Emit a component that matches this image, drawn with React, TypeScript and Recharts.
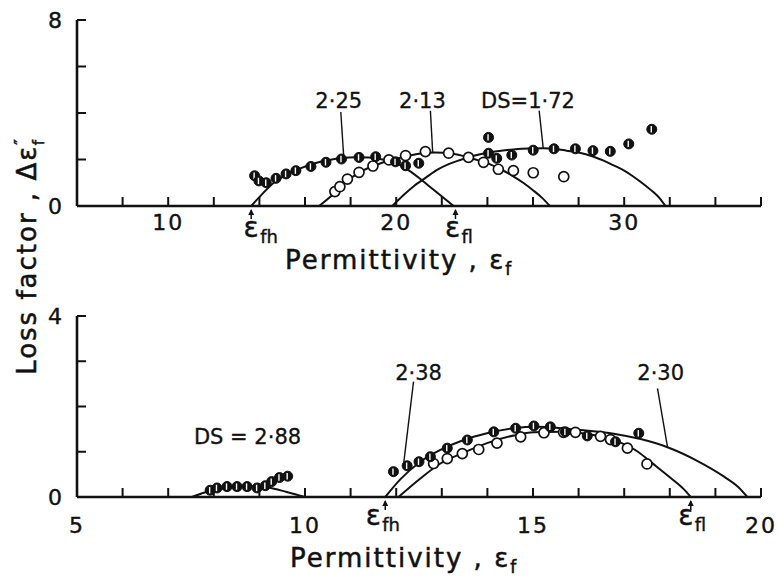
import React from "react";
import {
  ComposedChart,
  Line,
  ReferenceDot,
  ReferenceLine,
  Scatter,
  XAxis,
  YAxis,
} from "recharts";

const FONT = "'DejaVu Sans', 'Liberation Sans', sans-serif";
const INK = "#111";
const TICK = 9;

type Pt = { x: number; y: number };

// ---------- upper panel ----------
const topXTicks = [6, 8, 10, 12, 14, 16, 18, 20, 22, 24, 26, 28, 30, 32, 34, 36];
const topXLabels = [10, 20, 30];
const topYTicks = [0, 2, 4, 6, 8];
const topYLabels = [0, 8];

const topCurve225: Pt[] = [
  { x: 13.64, y: 0 }, { x: 14.08, y: 0.47 }, { x: 14.66, y: 1.02 }, { x: 15.2, y: 1.35 },
  { x: 15.8, y: 1.62 }, { x: 16.4, y: 1.83 }, { x: 17.0, y: 1.97 }, { x: 17.6, y: 2.06 },
  { x: 18.2, y: 2.1 }, { x: 18.8, y: 2.09 }, { x: 19.4, y: 2.0 }, { x: 20.0, y: 1.84 },
  { x: 20.6, y: 1.5 }, { x: 21.1, y: 1.13 }, { x: 21.6, y: 0.73 }, { x: 22.1, y: 0.33 },
  { x: 22.52, y: 0 },
];
const topCurve213: Pt[] = [
  { x: 16.62, y: 0 }, { x: 17.2, y: 0.47 }, { x: 17.72, y: 0.98 }, { x: 18.45, y: 1.48 },
  { x: 19.32, y: 1.84 }, { x: 20.2, y: 2.08 }, { x: 21.0, y: 2.25 }, { x: 21.7, y: 2.3 },
  { x: 22.4, y: 2.26 }, { x: 23.15, y: 2.1 }, { x: 23.7, y: 1.93 }, { x: 24.1, y: 1.8 },
  { x: 24.6, y: 1.57 }, { x: 25.1, y: 1.3 }, { x: 25.6, y: 0.98 }, { x: 26.0, y: 0.68 },
  { x: 26.4, y: 0.35 }, { x: 26.74, y: 0 },
];
const topCurve172: Pt[] = [
  { x: 19.83, y: 0 }, { x: 20.3, y: 0.45 }, { x: 20.77, y: 0.85 }, { x: 21.3, y: 1.22 },
  { x: 21.79, y: 1.55 }, { x: 22.3, y: 1.8 }, { x: 22.81, y: 1.98 }, { x: 23.4, y: 2.16 },
  { x: 23.98, y: 2.29 }, { x: 24.6, y: 2.38 }, { x: 25.14, y: 2.43 }, { x: 25.8, y: 2.47 },
  { x: 26.45, y: 2.48 }, { x: 27.0, y: 2.45 }, { x: 27.47, y: 2.38 }, { x: 28.0, y: 2.3 },
  { x: 28.63, y: 2.13 }, { x: 29.1, y: 1.95 }, { x: 29.51, y: 1.76 }, { x: 30.0, y: 1.52 },
  { x: 30.38, y: 1.28 }, { x: 30.8, y: 0.98 }, { x: 31.25, y: 0.62 }, { x: 31.55, y: 0.34 },
  { x: 31.81, y: 0 },
];

const topShaded: Pt[] = [
  { x: 13.79, y: 1.3 }, { x: 13.98, y: 1.08 }, { x: 14.3, y: 1.0 }, { x: 14.73, y: 1.19 },
  { x: 15.17, y: 1.38 }, { x: 15.6, y: 1.52 }, { x: 16.26, y: 1.7 }, { x: 16.92, y: 1.88 },
  { x: 17.6, y: 2.02 }, { x: 18.37, y: 2.09 }, { x: 19.1, y: 2.12 }, { x: 19.97, y: 1.9 },
  { x: 20.41, y: 1.73 }, { x: 20.99, y: 1.84 },
  { x: 24.05, y: 2.95 }, { x: 24.05, y: 2.27 }, { x: 24.41, y: 2.05 }, { x: 25.07, y: 2.19 },
  { x: 26.01, y: 2.4 }, { x: 26.92, y: 2.46 }, { x: 27.86, y: 2.46 }, { x: 28.63, y: 2.38 },
  { x: 29.39, y: 2.35 }, { x: 30.2, y: 2.67 }, { x: 31.21, y: 3.3 },
];
const topOpen: Pt[] = [
  { x: 17.31, y: 0.62 }, { x: 17.53, y: 0.83 }, { x: 17.86, y: 1.16 }, { x: 18.37, y: 1.45 },
  { x: 18.98, y: 1.72 }, { x: 19.68, y: 1.98 }, { x: 20.41, y: 2.17 }, { x: 21.28, y: 2.34 },
  { x: 22.3, y: 2.27 }, { x: 23.17, y: 2.09 }, { x: 23.83, y: 1.88 }, { x: 24.48, y: 1.58 },
  { x: 25.14, y: 1.52 }, { x: 26.01, y: 1.43 }, { x: 27.35, y: 1.26 },
];

const topNotes = [
  { x: 17.48, y: 4.56, text: "2·25" },
  { x: 21.15, y: 4.56, text: "2·13" },
  { x: 25.78, y: 4.56, text: "DS=1·72" },
];
const topLeaders: [Pt, Pt][] = [
  [{ x: 17.57, y: 4.04 }, { x: 17.7, y: 2.1 }],
  [{ x: 21.5, y: 4.1 }, { x: 21.6, y: 2.3 }],
  [{ x: 26.27, y: 4.1 }, { x: 26.45, y: 2.48 }],
];
const topMarks = [
  { x: 13.64, sub: "fh", dx: 0 },
  { x: 22.6, sub: "fl", dx: -3 },
];

// ---------- lower panel ----------
const botXTicks = [5, 6, 7, 8, 9, 10, 11, 12, 13, 14, 15, 16, 17, 18, 19, 20];
const botXLabels = [5, 10, 15, 20];
const botYTicks = [0, 1, 2, 3, 4];
const botYLabels = [0, 4];

const botCurve288: Pt[] = [
  { x: 7.52, y: 0 }, { x: 7.8, y: 0.1 }, { x: 8.1, y: 0.17 }, { x: 8.5, y: 0.22 },
  { x: 8.9, y: 0.24 }, { x: 9.2, y: 0.21 }, { x: 9.6, y: 0.11 }, { x: 10.0, y: 0 },
];
const botCurve230: Pt[] = [
  { x: 11.76, y: 0 }, { x: 12.1, y: 0.4 }, { x: 12.53, y: 0.78 }, { x: 12.97, y: 1.04 },
  { x: 13.48, y: 1.26 }, { x: 13.99, y: 1.41 }, { x: 14.58, y: 1.52 }, { x: 15.09, y: 1.55 },
  { x: 15.6, y: 1.52 }, { x: 16.04, y: 1.48 }, { x: 16.77, y: 1.4 }, { x: 17.36, y: 1.28 },
  { x: 17.95, y: 1.1 }, { x: 18.6, y: 0.8 }, { x: 19.19, y: 0.45 }, { x: 19.5, y: 0.22 },
  { x: 19.7, y: 0 },
];
const botCurve238: Pt[] = [
  { x: 12.05, y: 0 }, { x: 12.53, y: 0.41 }, { x: 12.97, y: 0.74 }, { x: 13.48, y: 0.98 },
  { x: 13.99, y: 1.19 }, { x: 14.58, y: 1.36 }, { x: 15.02, y: 1.43 }, { x: 15.6, y: 1.44 },
  { x: 16.33, y: 1.37 }, { x: 16.92, y: 1.2 }, { x: 17.3, y: 1.0 }, { x: 17.6, y: 0.76 },
  { x: 18.02, y: 0.42 }, { x: 18.3, y: 0.18 }, { x: 18.46, y: 0 },
];

const botShaded: Pt[] = [
  { x: 7.92, y: 0.15 }, { x: 8.07, y: 0.2 }, { x: 8.29, y: 0.23 }, { x: 8.51, y: 0.23 },
  { x: 8.73, y: 0.23 }, { x: 8.95, y: 0.2 }, { x: 9.13, y: 0.25 }, { x: 9.27, y: 0.34 },
  { x: 9.44, y: 0.43 }, { x: 9.62, y: 0.46 },
  { x: 11.94, y: 0.56 }, { x: 12.24, y: 0.69 }, { x: 12.5, y: 0.78 }, { x: 12.75, y: 0.89 },
  { x: 13.12, y: 1.08 }, { x: 13.56, y: 1.26 }, { x: 14.14, y: 1.44 }, { x: 14.62, y: 1.52 },
  { x: 15.02, y: 1.57 }, { x: 15.38, y: 1.55 }, { x: 15.71, y: 1.44 }, { x: 16.19, y: 1.35 },
  { x: 16.81, y: 1.22 }, { x: 17.32, y: 1.41 },
];
const botOpen: Pt[] = [
  { x: 12.82, y: 0.74 }, { x: 13.12, y: 0.85 }, { x: 13.45, y: 0.96 }, { x: 13.81, y: 1.05 },
  { x: 14.21, y: 1.19 }, { x: 14.73, y: 1.33 }, { x: 15.24, y: 1.42 }, { x: 15.67, y: 1.43 },
  { x: 15.93, y: 1.43 }, { x: 16.48, y: 1.34 }, { x: 16.7, y: 1.27 }, { x: 17.07, y: 1.08 },
  { x: 17.5, y: 0.73 },
];

const botNotes = [
  { x: 8.74, y: 1.33, text: "DS = 2·88" },
  { x: 12.49, y: 2.76, text: "2·38" },
  { x: 17.8, y: 2.76, text: "2·30" },
];
const botLeaders: [Pt, Pt][] = [
  [{ x: 12.38, y: 2.55 }, { x: 12.16, y: 0.71 }],
  [{ x: 17.73, y: 2.4 }, { x: 17.95, y: 1.1 }],
];
const botMarks = [
  { x: 11.76, sub: "fh", dx: -12 },
  { x: 18.46, sub: "fl", dx: -5 },
];

// ---------- drawing helpers ----------
const Shaded = (p: any) => {
  if (p.cx == null || p.cy == null) return null;
  return (
    <g>
      <circle cx={p.cx} cy={p.cy} r={5} fill={INK} stroke={INK} strokeWidth={1} />
      <line x1={p.cx - 0.5} x2={p.cx - 0.5} y1={p.cy - 3.2} y2={p.cy + 3.2} stroke="#fff" strokeWidth={1.4} />
    </g>
  );
};
const Open = (p: any) => {
  if (p.cx == null || p.cy == null) return null;
  return <circle cx={p.cx} cy={p.cy} r={5} fill="#fff" stroke={INK} strokeWidth={1.7} />;
};

const ink = { fontFamily: FONT, fill: INK, stroke: INK, strokeWidth: 0.4 };

const XTick = (p: any) => {
  const { x, y, payload, side, labels, dy } = p;
  const v = payload.value;
  const inward = side === "bottom" ? -TICK : TICK;
  return (
    <g>
      <line x1={x} x2={x} y1={y} y2={y + inward} stroke={INK} strokeWidth={2} />
      {side === "bottom" && labels.includes(v) && (
        <text x={x} y={y + dy} textAnchor="middle" fontSize={22} letterSpacing={2} {...ink}>
          {v}
        </text>
      )}
    </g>
  );
};

const YTick = (p: any) => {
  const { x, y, payload, side, labels } = p;
  const v = payload.value;
  const inward = side === "left" ? TICK : -TICK;
  return (
    <g>
      <line x1={x} x2={x + inward} y1={y} y2={y} stroke={INK} strokeWidth={2} />
      {side === "left" && labels.includes(v) && (
        <text x={x - 15} y={y} dy="0.36em" textAnchor="end" fontSize={22} {...ink}>
          {v}
        </text>
      )}
    </g>
  );
};

type PanelProps = {
  height: number;
  bottom: number;
  xDomain: [number, number];
  yDomain: [number, number];
  xTicks: number[];
  xLabels: number[];
  yTicks: number[];
  yLabels: number[];
  labelDy: number;
  markDy: number;
  curves: Pt[][];
  shaded: Pt[];
  open: Pt[];
  notes: { x: number; y: number; text: string }[];
  leaders: [Pt, Pt][];
  marks: { x: number; sub: string; dx: number }[];
};

function Panel(s: PanelProps) {
  const axisLine = { stroke: INK, strokeWidth: 2.6 };
  return (
    <ComposedChart width={777} height={s.height} margin={{ top: 20, right: 16, bottom: 0, left: 0 }}>
      <XAxis
        xAxisId="b"
        dataKey="x"
        type="number"
        domain={s.xDomain}
        ticks={s.xTicks}
        interval={0}
        allowDataOverflow
        height={s.bottom}
        tickSize={0}
        tickMargin={0}
        axisLine={axisLine}
        tick={<XTick side="bottom" labels={s.xLabels} dy={s.labelDy} />}
      />
      <XAxis
        xAxisId="t"
        orientation="top"
        dataKey="x"
        type="number"
        domain={s.xDomain}
        ticks={s.xTicks}
        interval={0}
        allowDataOverflow
        height={0}
        tickSize={0}
        tickMargin={0}
        axisLine={axisLine}
        tick={<XTick side="top" labels={[]} dy={0} />}
      />
      <YAxis
        yAxisId="l"
        dataKey="y"
        type="number"
        domain={s.yDomain}
        ticks={s.yTicks}
        interval={0}
        allowDataOverflow
        width={77}
        tickSize={0}
        tickMargin={0}
        axisLine={axisLine}
        tick={<YTick side="left" labels={s.yLabels} />}
      />
      <YAxis
        yAxisId="r"
        orientation="right"
        dataKey="y"
        type="number"
        domain={s.yDomain}
        ticks={s.yTicks}
        interval={0}
        allowDataOverflow
        width={0}
        tickSize={0}
        tickMargin={0}
        axisLine={axisLine}
        tick={<YTick side="right" labels={[]} />}
      />
      {s.curves.map((c, i) => (
        <Line
          key={"c" + i}
          xAxisId="b"
          yAxisId="l"
          data={c}
          dataKey="y"
          type="monotone"
          stroke={INK}
          strokeWidth={2}
          dot={false}
          activeDot={false}
          isAnimationActive={false}
        />
      ))}
      {s.leaders.map((seg, i) => (
        <ReferenceLine
          key={"l" + i}
          xAxisId="b"
          yAxisId="l"
          segment={seg}
          stroke={INK}
          strokeWidth={1.4}
          ifOverflow="visible"
        />
      ))}
      <Scatter xAxisId="b" yAxisId="l" data={s.open} shape={<Open />} isAnimationActive={false} />
      <Scatter xAxisId="b" yAxisId="l" data={s.shaded} shape={<Shaded />} isAnimationActive={false} />
      {s.notes.map((n, i) => (
        <ReferenceDot
          key={"n" + i}
          xAxisId="b"
          yAxisId="l"
          x={n.x}
          y={n.y}
          r={0}
          ifOverflow="visible"
          shape={(p: any) => (
            <text x={p.cx} y={p.cy} dy="0.36em" textAnchor="middle" fontSize={21} {...ink} strokeWidth={0.3}>
              {n.text}
            </text>
          )}
        />
      ))}
      {s.marks.map((m, i) => (
        <ReferenceDot
          key={"m" + i}
          xAxisId="b"
          yAxisId="l"
          x={m.x}
          y={0}
          r={0}
          ifOverflow="visible"
          shape={(p: any) => (
            <g>
              <line x1={p.cx} x2={p.cx} y1={p.cy + 4} y2={p.cy + 13} stroke={INK} strokeWidth={1.5} />
              <path d={`M${p.cx - 3},${p.cy + 9} L${p.cx},${p.cy + 3} L${p.cx + 3},${p.cy + 9} Z`} fill={INK} />
              <text x={p.cx + m.dx} y={p.cy + s.markDy} textAnchor="middle" fontSize={28} {...ink}>
                ε
              </text>
              <text x={p.cx + m.dx + 9} y={p.cy + s.markDy + 6} fontSize={18} {...ink}>
                {m.sub}
              </text>
            </g>
          )}
        />
      ))}
    </ComposedChart>
  );
}

const titleStyle = { ...ink, fontSize: 26, letterSpacing: 2, strokeWidth: 0.5 };

export default function App() {
  return (
    <div style={{ position: "absolute", left: 0, top: 0, width: 777, height: 577, background: "#fff" }}>
      <div style={{ position: "absolute", left: 0, top: 0 }}>
        <Panel
          height={256}
          bottom={50}
          xDomain={[6, 36]}
          yDomain={[0, 8]}
          xTicks={topXTicks}
          xLabels={topXLabels}
          yTicks={topYTicks}
          yLabels={topYLabels}
          labelDy={24}
          markDy={31}
          curves={[topCurve225, topCurve213, topCurve172]}
          shaded={topShaded}
          open={topOpen}
          notes={topNotes}
          leaders={topLeaders}
          marks={topMarks}
        />
      </div>
      <div style={{ position: "absolute", left: 0, top: 296 }}>
        <Panel
          height={281}
          bottom={80}
          xDomain={[5, 20]}
          yDomain={[0, 4]}
          xTicks={botXTicks}
          xLabels={botXLabels}
          yTicks={botYTicks}
          yLabels={botYLabels}
          labelDy={36}
          markDy={28}
          curves={[botCurve288, botCurve230, botCurve238]}
          shaded={botShaded}
          open={botOpen}
          notes={botNotes}
          leaders={botLeaders}
          marks={botMarks}
        />
      </div>
      <svg width={777} height={577} style={{ position: "absolute", left: 0, top: 0, pointerEvents: "none" }}>
        <text transform="rotate(-90 27 256)" x={27} y={256} dy="0.36em" textAnchor="middle" {...titleStyle}>
          Loss factor , Δε
          <tspan dy={-10} fontSize={15}>″</tspan>
          <tspan dx={-8} dy={18} fontSize={15}>f</tspan>
        </text>
        <text x={285} y={269} {...titleStyle}>
          Permittivity , ε<tspan dy={6} fontSize={17}>f</tspan>
        </text>
        <text x={290} y={567} {...titleStyle}>
          Permittivity , ε<tspan dy={6} fontSize={17}>f</tspan>
        </text>
      </svg>
    </div>
  );
}
